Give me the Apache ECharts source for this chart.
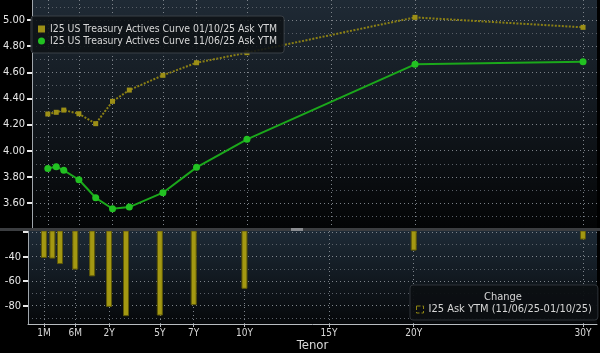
<!DOCTYPE html>
<html><head><meta charset="utf-8">
<script src="https://cdn.jsdelivr.net/npm/echarts@6/dist/echarts.min.js"></script>
<style>html,body{margin:0;padding:0;background:#000}#c{width:600px;height:353px}</style>
</head><body><div id="c"></div>
<script>
const tenors = ['1M','2M','3M','6M','1Y','2Y','3Y','5Y','7Y','10Y','20Y','30Y'];
const tenorPos = [-1.85, -1.35, -0.9, 0, 1, 2, 3, 5, 7, 10, 20, 30];
const curveJan = [4.281, 4.294, 4.311, 4.283, 4.207, 4.378, 4.464, 4.577, 4.673, 4.750, 5.020, 4.944];
const curveNov = [3.865, 3.878, 3.850, 3.778, 3.640, 3.556, 3.569, 3.679, 3.873, 4.087, 4.661, 4.681];
const change = [-41, -41.5, -46, -50.5, -56, -81, -88.5, -88, -79.5, -66.2, -35, -26];
const xTickPos = [-1.85, 0, 2, 5, 7, 10, 15, 20, 30];
const xTickLabels = ['1M','6M','2Y','5Y','7Y','10Y','15Y','20Y','30Y'];
const yTopMajor = [3.6, 3.8, 4.0, 4.2, 4.4, 4.6, 4.8, 5.0];
const yTopMinor = [3.5, 3.7, 3.9, 4.1, 4.3, 4.5, 4.7, 4.9, 5.1];
const yBotLabels = [-40, -60, -80];
const yBotTicks = [-20, -40, -60, -80];
const yBotMinor = [-30, -50, -70, -90];
const nameJan = 'I25 US Treasury Actives Curve 01/10/25 Ask YTM';
const nameNov = 'I25 US Treasury Actives Curve 11/06/25 Ask YTM';
const nameChg = 'I25 Ask YTM (11/06/25-01/10/25)';

const FONT = '"DejaVu Sans Condensed", "Liberation Sans", sans-serif';
const gridLineMajor = {show: true, lineStyle: {color: '#7d838a', type: [1, 3], width: 1}};
const gridLineMinor = {show: true, lineStyle: {color: '#5a6068', type: [1, 3], width: 1}};
const xMin = -2.79, xMax = 30.83;

function grad(top, bottom) {
  return {type: 'linear', x: 0, y: 0, x2: 0, y2: 1, colorStops: [{offset: 0, color: top}, {offset: 1, color: bottom}]};
}
function xLabel(v) {
  for (let i = 0; i < xTickPos.length; i++) if (Math.abs(xTickPos[i] - v) < 1e-6) return xTickLabels[i];
  return '';
}

const chart = echarts.init(document.getElementById('c'));
chart.setOption({
  backgroundColor: '#000',
  animation: false,
  grid: [
    {left: 28, right: 3, top: 0, height: 228, show: true, borderWidth: 0, backgroundColor: grad('#1f2a35', '#040506')},
    {left: 28, right: 3, top: 231, height: 93, show: true, borderWidth: 0, backgroundColor: grad('#1d2a36', '#06080a')}
  ],
  xAxis: [
    {type: 'value', gridIndex: 0, min: xMin, max: xMax,
     axisLine: {show: false, onZero: false}, axisLabel: {show: false, customValues: xTickPos},
     axisTick: {show: false, customValues: xTickPos}, splitLine: gridLineMajor},
    {type: 'value', gridIndex: 1, min: xMin, max: xMax,
     axisLine: {show: true, onZero: false, lineStyle: {color: '#b8bcc0', width: 1}},
     axisTick: {show: true, length: 3, customValues: xTickPos, lineStyle: {color: '#b8bcc0'}},
     axisLabel: {customValues: xTickPos, formatter: xLabel, color: '#d8d8d8', fontSize: 10, margin: 4, fontFamily: FONT},
     splitLine: gridLineMajor,
     name: 'Tenor', nameLocation: 'middle', nameGap: 13,
     nameTextStyle: {color: '#d8d8d8', fontSize: 13, fontFamily: FONT}}
  ],
  yAxis: [
    {type: 'value', gridIndex: 0, min: 3.409, max: 5.153,
     axisLine: {show: true, onZero: false, lineStyle: {color: '#a0a6ac', width: 1}},
     axisTick: {show: true, length: 5, customValues: yTopMajor, lineStyle: {color: '#e8e8e8', width: 2}},
     axisLabel: {customValues: yTopMajor, formatter: v => v.toFixed(2), color: '#e6e6e6', fontSize: 11, margin: 7, fontFamily: FONT},
     splitLine: gridLineMajor},
    {type: 'value', gridIndex: 0, min: 3.409, max: 5.153,
     axisLine: {show: false, onZero: false}, axisTick: {show: false, customValues: yTopMinor},
     axisLabel: {show: false, customValues: yTopMinor}, splitLine: gridLineMinor},
    {type: 'value', gridIndex: 1, min: -94.9, max: -19.0,
     axisLine: {show: true, onZero: false, lineStyle: {color: '#a0a6ac', width: 1}},
     axisTick: {show: true, length: 5, customValues: yBotTicks, lineStyle: {color: '#e8e8e8', width: 2}},
     axisLabel: {customValues: yBotLabels, formatter: v => String(v), color: '#e6e6e6', fontSize: 11, margin: 7, fontFamily: FONT},
     splitLine: gridLineMajor},
    {type: 'value', gridIndex: 1, min: -94.9, max: -19.0,
     axisLine: {show: false, onZero: false}, axisTick: {show: false, customValues: yBotMinor},
     axisLabel: {show: false, customValues: yBotMinor}, splitLine: gridLineMinor}
  ],
  legend: [
    {data: [{name: nameJan, icon: 'rect'}, {name: nameNov, icon: 'circle'}],
     orient: 'vertical', left: 31, top: 16, padding: [7, 7, 6, 7], itemGap: 0,
     itemWidth: 7, itemHeight: 7, selectedMode: false,
     backgroundColor: 'rgba(14,18,22,0.88)', borderColor: '#3a4046', borderWidth: 1, borderRadius: 3,
     textStyle: {color: '#d6d6d6', fontSize: 10.4, fontFamily: FONT, lineHeight: 12}},
    {data: [{name: nameChg, icon: 'rect', itemStyle: {color: 'rgba(0,0,0,0)', borderColor: '#8f8512', borderWidth: 1, borderType: 'dashed'}}],
     left: 410, top: 285, padding: [19, 6, 5, 6], itemWidth: 7, itemHeight: 7, itemGap: 4, selectedMode: false,
     backgroundColor: 'rgba(12,15,18,0.95)', borderColor: '#2e3338', borderWidth: 1, borderRadius: 3,
     textStyle: {color: '#d6d6d6', fontSize: 11, fontFamily: FONT}}
  ],
  graphic: [
    {type: 'rect', shape: {x: 0, y: 228, width: 600, height: 3}, style: {fill: '#3b3d40'}, z: 50},
    {type: 'rect', shape: {x: 291, y: 228, width: 12, height: 3}, style: {fill: '#8a8c90'}, z: 51},
    {type: 'text', x: 503, y: 297, z: 100, style: {text: 'Change', fill: '#d6d6d6', font: '11px ' + FONT, align: 'center', verticalAlign: 'middle'}}
  ],
  series: [
    {name: nameJan, type: 'line', xAxisIndex: 0, yAxisIndex: 0,
     data: tenorPos.map((p, i) => [p, curveJan[i]]),
     symbol: 'rect', symbolSize: 5, itemStyle: {color: '#9c8f16'},
     lineStyle: {color: '#8a7f14', width: 2, type: [2, 1.5]}, z: 3},
    {name: nameNov, type: 'line', xAxisIndex: 0, yAxisIndex: 0,
     data: tenorPos.map((p, i) => [p, curveNov[i]]),
     symbol: 'circle', symbolSize: 7, itemStyle: {color: '#22c122'},
     lineStyle: {color: '#1ba81b', width: 2}, z: 4},
    {name: nameChg, type: 'bar', xAxisIndex: 1, yAxisIndex: 2,
     data: tenorPos.map((p, i) => [p, change[i]]),
     barWidth: 6, clip: true,
     itemStyle: {color: '#a39812', borderColor: '#5e5808', borderWidth: 1}}
  ]
});
</script></body></html>
